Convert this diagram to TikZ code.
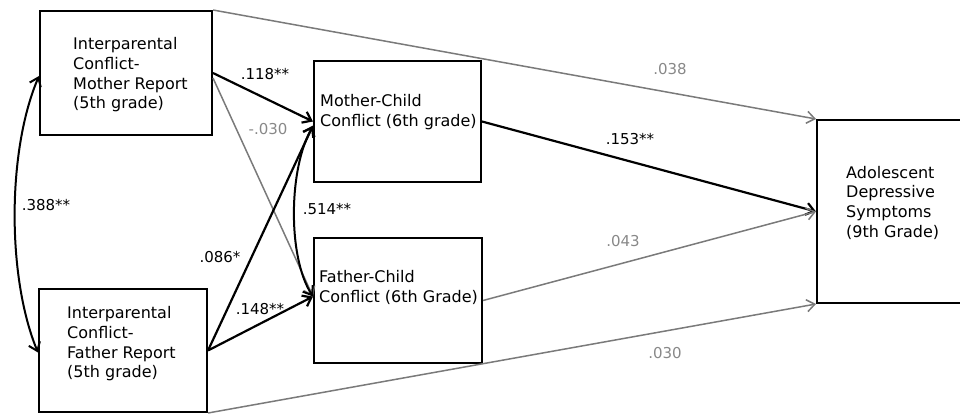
\documentclass[tikz,border=0pt]{standalone}
\usepackage{fontspec}
\setmainfont{DejaVu Sans}
\usetikzlibrary{arrows.meta}
\definecolor{lgray}{HTML}{7A7A7A}
\definecolor{tgray}{HTML}{888888}
\tikzset{
  box/.style={draw=black, line width=2pt, fill=white, inner sep=0pt},
  txt/.style={anchor=north west, inner sep=0pt, align=left, font=\fontsize{16}{19.6}\selectfont},
  lbl/.style={inner sep=0pt, font=\fontsize{15}{18}\selectfont},
  glbl/.style={lbl, text=tgray},
  tip/.style={-{Straight Barb[length=8pt,width=12pt]}},
  strong/.style={tip, line width=2.2pt, black},
  weak/.style={tip, line width=1.5pt, lgray},
  both/.style={{Straight Barb[length=8pt,width=12pt]}-{Straight Barb[length=8pt,width=12pt]}, line width=2pt, black},
}
\begin{document}
\begin{tikzpicture}[x=1pt,y=-1pt]
\useasboundingbox (0,0) rectangle (960,413);
% boxes
\node[box, minimum width=172pt, minimum height=124pt] (A) at (126,73) {};
\node[box, minimum width=168pt, minimum height=123pt] (B) at (123,350.5) {};
\node[box, minimum width=167pt, minimum height=121pt] (C) at (397.5,121.5) {};
\node[box, minimum width=168pt, minimum height=125pt] (D) at (398,300.5) {};
\node[box, minimum width=146pt, minimum height=183pt] (E) at (890,211.5) {};
% texts
\node[txt] (At) at (73,37.5) {Interparental\\Conflict-\\Mother Report\\(5th grade)};
\node[txt] (Bt) at (67,306.5) {Interparental\\Conflict-\\Father Report\\(5th grade)};
\node[txt] (Ct) at (320,94.5) {Mother-Child\\Conflict (6th grade)};
\node[txt] (Dt) at (319,270.5) {Father-Child\\Conflict (6th Grade)};
\node[txt] (Et) at (846,166) {Adolescent\\Depressive\\Symptoms\\(9th Grade)};
% connectors
\draw[weak] (A.north east) -- (E.north west);
\draw[weak] ([yshift=-5pt]A.east) -- ([yshift=4pt]D.west);
\draw[strong] (A.east) -- (C.west);
\draw[strong] (B.east) -- ([yshift=-4pt]C.west);
\draw[strong] (B.east) -- ([yshift=4pt]D.west);
\draw[strong] (C.east) -- (E.west);
\draw[weak] (D.east) -- (E.west);
\draw[weak] (B.south east) -- (E.south west);
\draw[both] ([yshift=-3pt]A.west) .. controls +(-32,75) and +(-31,-75) .. ([yshift=-2pt]B.west);
\draw[both] ([yshift=-5pt]C.west) .. controls +(-24,40) and +(-26,-40) .. ([yshift=4pt]D.west);
% labels
\node[lbl] (l118) at (265,74) {.118**};
\node[glbl] (l030a) at (268,129) {-.030};
\node[lbl] (l388) at (46,205) {.388**};
\node[lbl] (l086) at (220,257) {.086*};
\node[lbl] (l148) at (260,309) {.148**};
\node[lbl] (l514) at (327,209) {.514**};
\node[glbl] (l038) at (670,69) {.038};
\node[lbl] (l153) at (630,139) {.153**};
\node[glbl] (l043) at (623,241) {.043};
\node[glbl] (l030b) at (665,353) {.030};
\end{tikzpicture}
\end{document}
